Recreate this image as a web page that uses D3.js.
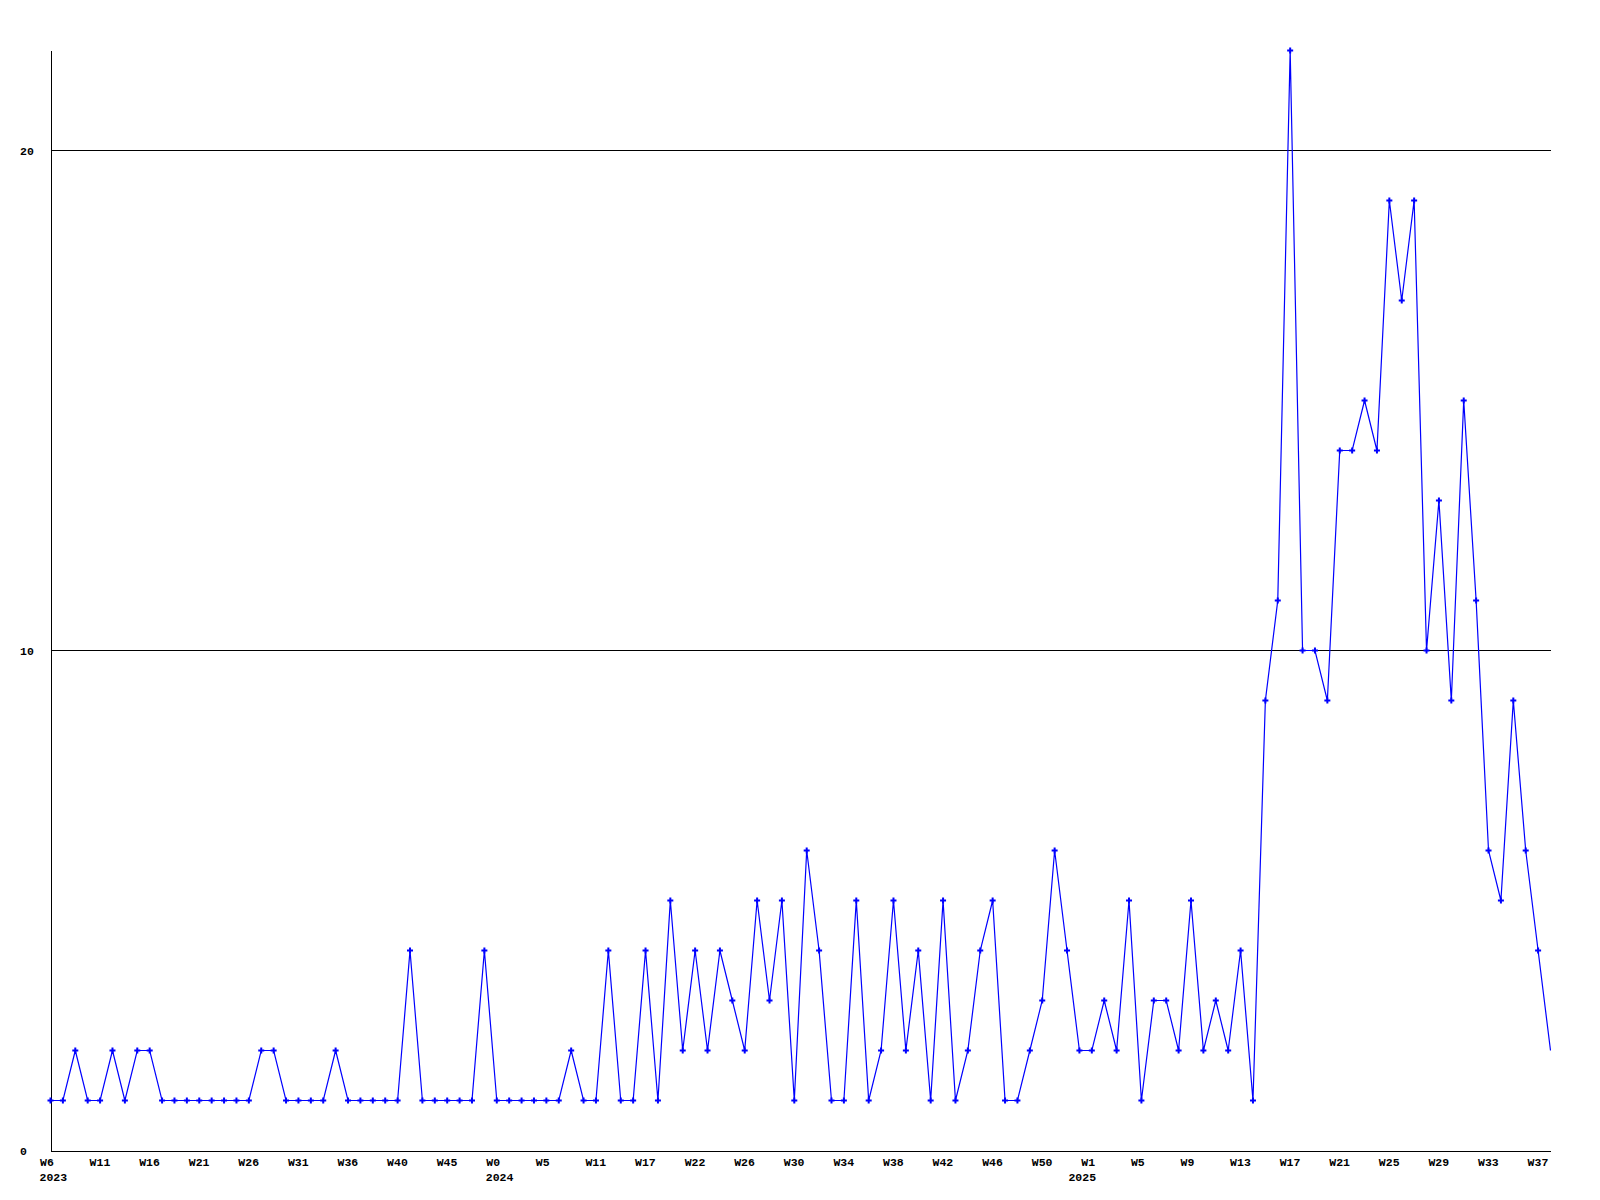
<!DOCTYPE html>
<html>
<head>
<meta charset="utf-8">
<script src="https://cdn.jsdelivr.net/npm/d3@7"></script>
<style>
  body { margin: 0; background: #fff; }
  text { font-family: "Liberation Mono", "DejaVu Sans Mono", monospace; font-weight: bold; font-size: 11.5px; fill: #000; }
</style>
</head>
<body>
<div class="chart"></div>
<script>
// weekly counts, one per week that had data (2023 W6 .. 2025 W38)
const counts = [
  1,1,2,1,1,2,1,2,2,1, 1,1,1,1,1,1,1,2,2,1,
  1,1,1,2,1,1,1,1,1,4, 1,1,1,1,1,4,1,1,1,1,
  1,1,2,1,1,4,1,1,4,1, 5,2,4,2,4,3,2,5,3,5,
  1,6,4,1,1,5,1,2,5,2, 4,1,5,1,2,4,5,1,1,2,
  3,6,4,2,2,3,2,5,1,3, 3,2,5,2,3,2,4,1,9,11,
  22,10,10,9,14,14,15,14,19,17, 19,10,13,9,15,11,6,5,9,6,
  4,2
];

// a week label every 4th point
const weekTicks = ["W6","W11","W16","W21","W26","W31","W36","W40","W45","W0",
  "W5","W11","W17","W22","W26","W30","W34","W38","W42","W46","W50",
  "W1","W5","W9","W13","W17","W21","W25","W29","W33","W37"];
const tickEvery = 4;

// year labels and the point where each year starts
const yearLabels = ["2023", "2024", "2025"];
const yearStart = [0, 36, 83];

const yTicks = [0, 10, 20];
const yMax = 22;

const width = 1600, height = 1200;

const svg = d3.select(".chart").append("svg")
  .attr("width", width)
  .attr("height", height)
  .attr("style", "background-color:#fff");

const x = d3.scalePoint()
  .domain(d3.range(counts.length))
  .range([50.5, 1550.5]);

const y = d3.scaleLinear()
  .domain([0, yMax])
  .range([1150.5, 50.5]);

// horizontal grid lines (not at 0, the axis does that)
svg.selectAll("line.grid")
  .data(yTicks.filter(d => d > 0))
  .enter().append("line")
  .attr("class", "grid")
  .attr("x1", x.range()[0])
  .attr("x2", x.range()[1])
  .attr("y1", d => y(d))
  .attr("y2", d => y(d))
  .attr("stroke", "#000")
  .attr("shape-rendering", "crispEdges");

// x axis
const tickIdx = weekTicks.map((w, i) => i * tickEvery);
const xAxis = svg.append("g")
  .attr("transform", `translate(0,${y(0)})`)
  .call(d3.axisBottom(x)
    .tickValues(tickIdx)
    .tickFormat((d, i) => weekTicks[i])
    .tickSize(0)
    .tickSizeOuter(0));
xAxis.select(".domain").attr("stroke", "#000").attr("shape-rendering", "crispEdges");
xAxis.selectAll(".tick text")
  .attr("text-anchor", "start")
  .attr("x", -11)
  .attr("y", 15.5)
  .attr("dy", null);
xAxis.attr("font-family", null).attr("font-size", null);

// year row under the week labels
svg.selectAll("text.year")
  .data(yearLabels)
  .enter().append("text")
  .attr("class", "year")
  .attr("x", (d, i) => x(yearStart[i]) - 11)
  .attr("y", y(0) + 30)
  .text(d => d);

// y axis
const yAxis = svg.append("g")
  .attr("transform", `translate(${x.range()[0]},0)`)
  .call(d3.axisLeft(y)
    .tickValues(yTicks)
    .tickSize(0)
    .tickSizeOuter(0));
yAxis.select(".domain").attr("stroke", "#000").attr("shape-rendering", "crispEdges");
yAxis.selectAll(".tick text")
  .attr("text-anchor", "start")
  .attr("x", 20 - x.range()[0])
  .attr("dy", "0.32em");
yAxis.attr("font-family", null).attr("font-size", null);

// the line
const line = d3.line()
  .x((d, i) => x(i))
  .y(d => y(d));

svg.append("path")
  .datum(counts)
  .attr("d", line)
  .attr("fill", "none")
  .attr("stroke", "#0000ff")
  .attr("stroke-width", 1.2);

// point markers (the last, unfinished week has none)
const marker = d3.symbol().type(d3.symbolCross).size(20);
svg.selectAll("path.pt")
  .data(counts.slice(0, -1))
  .enter().append("path")
  .attr("class", "pt")
  .attr("transform", (d, i) => `translate(${x(i)},${y(d)})`)
  .attr("d", marker)
  .attr("fill", "#0000ff");
</script>
</body>
</html>
